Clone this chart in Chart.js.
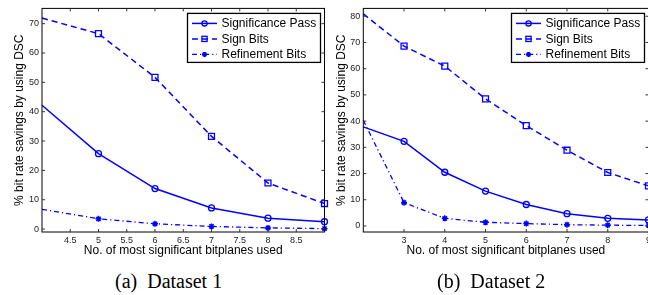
<!DOCTYPE html>
<html>
<head>
<meta charset="utf-8">
<script src="https://cdn.jsdelivr.net/npm/chart.js@4.4.0/dist/chart.umd.min.js"></script>
<style>
  html, body { margin: 0; padding: 0; background: #fff; }
  body { width: 648px; height: 295px; position: relative; overflow: hidden; }
  .panel { position: absolute; top: 0; height: 262px; }
  .cap { position: absolute; top: 271px; font: 20px "Liberation Serif", "Times New Roman", serif; line-height: 20px; white-space: pre; color: #000; }
</style>
</head>
<body>
<div class="panel" style="left:0;width:330px"><canvas id="chartA"></canvas></div>
<div class="panel" style="left:322px;width:333px"><canvas id="chartB"></canvas></div>
<div class="cap" style="left:115px">(a)  Dataset 1</div>
<div class="cap" style="left:437px">(b)  Dataset 2</div>
<script>
// Dataset 1
const xA = [4, 5, 6, 7, 8, 9];
const sigA = [42.2, 25.7, 13.8, 7.2, 3.7, 2.5];
const signA = [71.9, 66.6, 51.7, 31.6, 15.7, 8.7];
const refA = [6.7, 3.5, 1.8, 0.9, 0.4, 0.15];
const xTicksA = [4.5, 5, 5.5, 6, 6.5, 7, 7.5, 8, 8.5];
const yTicksA = [0, 10, 20, 30, 40, 50, 60, 70];

// Dataset 2
const xB = [2, 3, 4, 5, 6, 7, 8, 9];
const sigB = [37.8, 32.3, 20.5, 13.3, 8.2, 4.7, 2.9, 2.3];
const signB = [80.9, 68.6, 61, 48.5, 38.3, 28.9, 20.4, 15.3];
const refB = [40.3, 8.9, 2.9, 1.4, 0.9, 0.5, 0.3, 0.2];
const xTicksB = [3, 4, 5, 6, 7, 8, 9];
const yTicksB = [0, 10, 20, 30, 40, 50, 60, 70, 80];

const seriesNames = ['Significance Pass', 'Sign Bits', 'Refinement Bits'];

const BLUE = '#0000ff';
const FONT = '"Liberation Sans", Arial, Helvetica, sans-serif';

function pts(xs, ys) {
    return xs.map((x, i) => ({ x: x, y: ys[i] }));
}

// first sample sits on the axis edge, drawn without a marker
const hideFirst = r => ctx => ctx.dataIndex === 0 ? 0 : r;

function makeDatasets(xs, sig, sign, ref) {
    return [{
        label: seriesNames[0],
        data: pts(xs, sig),
        borderColor: BLUE,
        borderWidth: 1.5,
        pointStyle: 'circle',
        pointRadius: hideFirst(3),
        pointBorderWidth: 1.3,
        pointBorderColor: BLUE,
        pointBackgroundColor: 'rgba(0,0,0,0)'
    }, {
        label: seriesNames[1],
        data: pts(xs, sign),
        borderColor: BLUE,
        borderWidth: 1.5,
        borderDash: [6, 4],
        pointStyle: 'rect',
        pointRadius: hideFirst(4.2),
        pointBorderWidth: 1.3,
        pointBorderColor: BLUE,
        pointBackgroundColor: 'rgba(0,0,0,0)'
    }, {
        label: seriesNames[2],
        data: pts(xs, ref),
        borderColor: BLUE,
        borderWidth: 1.3,
        borderDash: [5, 3, 1.2, 3],
        pointStyle: 'star',
        pointRadius: hideFirst(3),
        pointBorderWidth: 1.5,
        pointBorderColor: BLUE,
        pointBackgroundColor: BLUE
    }];
}

// box round the plot, inward tick marks and a matlab-like legend
const framePlugin = {
    id: 'frame',
    afterDatasetsDraw(chart) {
        const { ctx, chartArea: a, scales } = chart;
        ctx.save();
        ctx.strokeStyle = '#000';
        ctx.lineWidth = 1;
        ctx.strokeRect(a.left, a.top, a.right - a.left, a.bottom - a.top);
        ctx.strokeStyle = '#333';
        ctx.beginPath();
        scales.x.ticks.forEach(t => {
            const px = scales.x.getPixelForValue(t.value);
            ctx.moveTo(px, a.bottom); ctx.lineTo(px, a.bottom - 3);
            ctx.moveTo(px, a.top); ctx.lineTo(px, a.top + 3);
        });
        scales.y.ticks.forEach(t => {
            const py = scales.y.getPixelForValue(t.value);
            ctx.moveTo(a.left, py); ctx.lineTo(a.left + 3, py);
            ctx.moveTo(a.right, py); ctx.lineTo(a.right - 3, py);
        });
        ctx.stroke();

        // legend
        const w = 133, h = 49;
        const bx = a.right - 4 - w, by = a.top + 5;
        ctx.fillStyle = '#fff';
        ctx.fillRect(bx, by, w, h);
        ctx.lineWidth = 1.3;
        ctx.strokeStyle = '#000';
        ctx.strokeRect(bx, by, w, h);
        const rows = [10, 25.5, 41];
        chart.data.datasets.forEach((ds, i) => {
            const y = by + rows[i];
            const x0 = bx + 4.5, x1 = x0 + 25, xm = (x0 + x1) / 2;
            ctx.strokeStyle = BLUE;
            ctx.lineWidth = ds.borderWidth;
            ctx.setLineDash(ds.borderDash || []);
            ctx.beginPath();
            ctx.moveTo(x0, y); ctx.lineTo(x1, y);
            ctx.stroke();
            ctx.setLineDash([]);
            ctx.lineWidth = 1.3;
            ctx.beginPath();
            if (ds.pointStyle === 'circle') {
                ctx.arc(xm, y, 2.6, 0, Math.PI * 2);
                ctx.stroke();
            } else if (ds.pointStyle === 'rect') {
                ctx.strokeRect(xm - 2.6, y - 2.6, 5.2, 5.2);
            } else {
                ctx.lineWidth = 1.5;
                ctx.moveTo(xm - 2.5, y); ctx.lineTo(xm + 2.5, y);
                ctx.moveTo(xm, y - 2.5); ctx.lineTo(xm, y + 2.5);
                ctx.moveTo(xm - 1.8, y - 1.8); ctx.lineTo(xm + 1.8, y + 1.8);
                ctx.moveTo(xm - 1.8, y + 1.8); ctx.lineTo(xm + 1.8, y - 1.8);
                ctx.stroke();
            }
            ctx.fillStyle = '#000';
            ctx.font = '12px ' + FONT;
            ctx.textBaseline = 'middle';
            ctx.textAlign = 'left';
            ctx.fillText(ds.label, x1 + 4.5, y + 0.5);
        });
        ctx.restore();
    }
};

function makeChart(id, xs, sig, sign, ref, xTicks, yTicks, xr, yr, yWidth, padRight) {
    return new Chart(document.getElementById(id), {
        type: 'line',
        data: { datasets: makeDatasets(xs, sig, sign, ref) },
        options: {
            responsive: true,
            maintainAspectRatio: false,
            animation: false,
            events: [],
            layout: { padding: { top: 8, right: padRight, left: 0, bottom: 0 } },
            datasets: { line: { clip: false, tension: 0 } },
            plugins: { legend: { display: false }, tooltip: { enabled: false } },
            scales: {
                x: {
                    type: 'linear',
                    min: xr[0],
                    max: xr[1],
                    afterBuildTicks: s => { s.ticks = xTicks.map(v => ({ value: v })); },
                    afterFit: s => { s.height = 30; },
                    grid: { display: false, drawTicks: false },
                    border: { display: false },
                    ticks: {
                        padding: 3,
                        color: '#222',
                        font: { family: FONT, size: 9 },
                        maxRotation: 0,
                        autoSkip: false,
                        callback: v => String(v)
                    },
                    title: {
                        display: true,
                        text: 'No. of most significant bitplanes used',
                        color: '#000',
                        font: { family: FONT, size: 12 },
                        padding: { top: 0, bottom: 4 }
                    }
                },
                y: {
                    type: 'linear',
                    min: yr[0],
                    max: yr[1],
                    afterBuildTicks: s => { s.ticks = yTicks.map(v => ({ value: v })); },
                    afterFit: s => { s.width = yWidth; },
                    grid: { display: false, drawTicks: false },
                    border: { display: false },
                    ticks: {
                        padding: 3,
                        color: '#222',
                        font: { family: FONT, size: 9 },
                        autoSkip: false,
                        callback: v => String(v)
                    },
                    title: {
                        display: true,
                        text: '% bit rate savings by using DSC',
                        color: '#000',
                        font: { family: FONT, size: 12 },
                        padding: { top: 12.5, bottom: 0 }
                    }
                }
            }
        },
        plugins: [framePlugin]
    });
}

makeChart('chartA', xA, sigA, signA, refA, xTicksA, yTicksA, [4, 9], [-1, 75.2], 42, 5);
makeChart('chartB', xB, sigB, signB, refB, xTicksB, yTicksB, [2, 9], [-2.3, 83], 41.3, 6.5);
</script>
</body>
</html>
